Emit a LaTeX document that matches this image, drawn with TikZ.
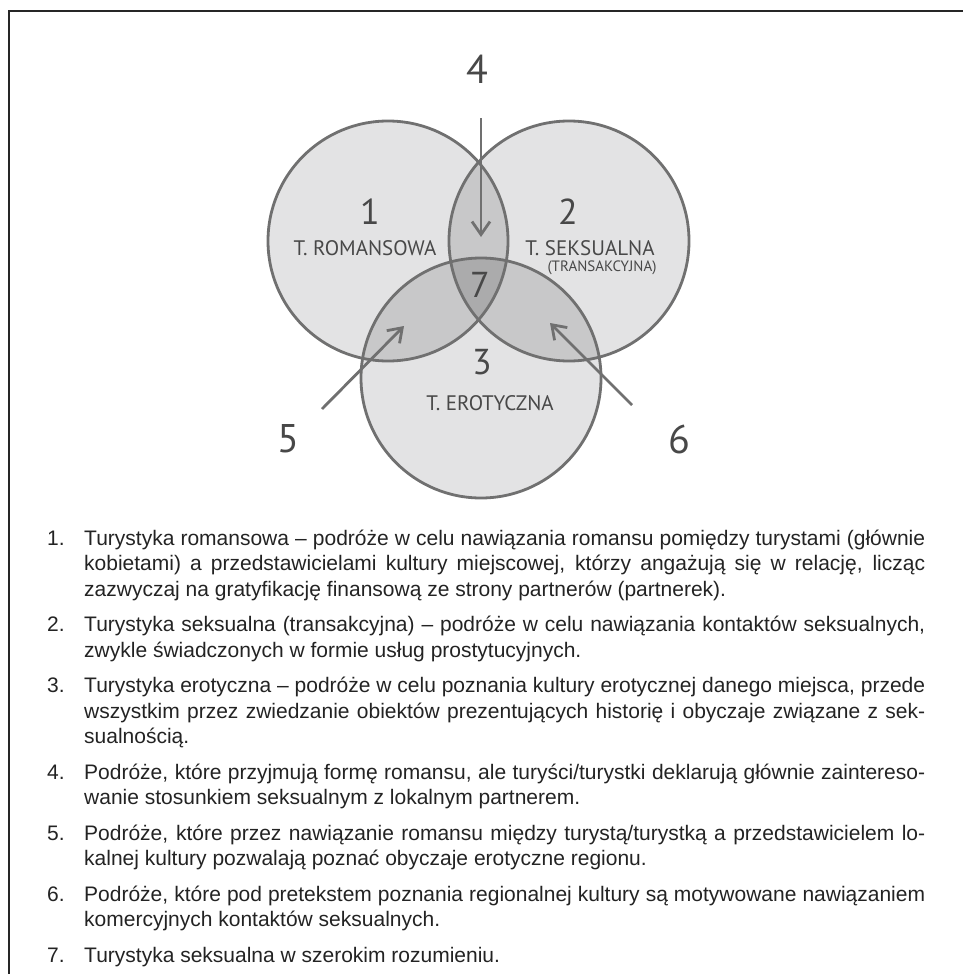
\documentclass[tikz,border=0pt]{standalone}
\usepackage{fontspec}
\setmainfont{Liberation Sans}
\newfontfamily\vennfont{PT Sans}
\usetikzlibrary{arrows.meta}

\definecolor{vennfill}{HTML}{E3E3E4}
\definecolor{vennlens}{HTML}{C8C8C9}
\definecolor{venncore}{HTML}{ABABAC}
\definecolor{vennline}{HTML}{707070}
\definecolor{venntext}{HTML}{484848}
\definecolor{listtext}{HTML}{232323}

\tikzset{
  venn/.style={draw=vennline, line width=2.8pt},
  vennnum/.style={font=\vennfont\fontsize{36}{36}\selectfont, text=venntext, inner sep=0},
  vennbig/.style={font=\vennfont\fontsize{40}{40}\selectfont, text=venntext, inner sep=0},
  vennlabel/.style={font=\vennfont\fontsize{21}{21}\selectfont, text=venntext, inner sep=0},
  vennsmall/.style={font=\vennfont\fontsize{15}{15}\selectfont, text=venntext, inner sep=0},
  pointer/.style={draw=vennline, line width=2.8pt,
    -{Straight Barb[length=13pt, width=18pt, line width=2.8pt]}},
  itemnum/.style={anchor=base west, inner sep=0, text=listtext,
    font=\fontsize{21}{25.5}\selectfont},
  itemtext/.style={anchor=base west, inner sep=0, text=listtext, text width=841pt,
    align=justify, font=\fontsize{21}{25.5}\selectfont},
}

\begin{document}
\begin{tikzpicture}[x=1pt, y=-1pt]
\useasboundingbox (0,0) rectangle (963,974);
% frame
\draw[line width=1.8pt, black!85] (9,974) -- (9,11) -- (963,11);

% circles
\coordinate (c1) at (388,241);
\coordinate (c2) at (569,241);
\coordinate (c3) at (481,378);
\fill[vennfill] (c1) circle (120pt);
\fill[vennfill] (c2) circle (120pt);
\fill[vennfill] (c3) circle (120pt);
\begin{scope}
  \clip (c1) circle (120pt);
  \fill[vennlens] (c2) circle (120pt);
  \fill[vennlens] (c3) circle (120pt);
\end{scope}
\begin{scope}
  \clip (c2) circle (120pt);
  \fill[vennlens] (c3) circle (120pt);
\end{scope}
\begin{scope}
  \clip (c1) circle (120pt);
  \clip (c2) circle (120pt);
  \fill[venncore] (c3) circle (120pt);
\end{scope}
\draw[venn] (c1) circle (120pt);
\draw[venn] (c2) circle (120pt);
\draw[venn] (c3) circle (120pt);

% labels
\node[vennnum] (n1) at (370,212) {1};
\node[vennlabel] (romans) at (365,248) {T. ROMANSOWA};
\node[vennnum] (n2) at (568,212) {2};
\node[vennlabel] (seks) at (590,248) {T. SEKSUALNA};
\node[vennsmall] (trans) at (602,268) {(TRANSAKCYJNA)};
\node[vennnum] (n3) at (482,362) {3};
\node[vennlabel] (erot) at (490,403) {T. EROTYCZNA};
\node[vennnum] (n7) at (480,285) {7};
\node[vennbig] (n4) at (477,69) {4};
\node[vennbig] (n5) at (288,439) {5};
\node[vennbig] (n6) at (679,439) {6};

% pointers
\coordinate (p4a) at (481,118);
\coordinate (p4b) at (481,237);
\coordinate (p5a) at (322,409);
\coordinate (p5b) at (404,326);
\coordinate (p6a) at (632,405);
\coordinate (p6b) at (550,323);
\draw[pointer] (p4a) -- (p4b);
\draw[pointer] (p5a) -- (p5b);
\draw[pointer] (p6a) -- (p6b);

% list
\node[itemnum] (i1) at (47,545) {1.};
\node[itemtext] (t1) at (84,545) {Turystyka romansowa – podróże w celu nawiązania romansu pomiędzy turystami (głównie\linebreak kobietami) a przedstawicielami kultury miejscowej, którzy angażują się w relację, licząc\linebreak zazwyczaj na gratyfikację finansową ze strony partnerów (partnerek).};
\node[itemnum] (i2) at (47,631.5) {2.};
\node[itemtext] (t2) at (84,631.5) {Turystyka seksualna (transakcyjna) – podróże w celu nawiązania kontaktów seksualnych,\linebreak zwykle świadczonych w formie usług prostytucyjnych.};
\node[itemnum] (i3) at (47,692.5) {3.};
\node[itemtext] (t3) at (84,692.5) {Turystyka erotyczna – podróże w celu poznania kultury erotycznej danego miejsca, przede\linebreak wszystkim przez zwiedzanie obiektów prezentujących historię i obyczaje związane z sek-\linebreak sualnością.};
\node[itemnum] (i4) at (47,779) {4.};
\node[itemtext] (t4) at (84,779) {Podróże, które przyjmują formę romansu, ale turyści/turystki deklarują głównie zaintereso-\linebreak wanie stosunkiem seksualnym z lokalnym partnerem.};
\node[itemnum] (i5) at (47,840) {5.};
\node[itemtext] (t5) at (84,840) {Podróże, które przez nawiązanie romansu między turystą/turystką a przedstawicielem lo-\linebreak kalnej kultury pozwalają poznać obyczaje erotyczne regionu.};
\node[itemnum] (i6) at (47,901) {6.};
\node[itemtext] (t6) at (84,901) {Podróże, które pod pretekstem poznania regionalnej kultury są motywowane nawiązaniem\linebreak komercyjnych kontaktów seksualnych.};
\node[itemnum] (i7) at (47,962) {7.};
\node[itemtext] (t7) at (84,962) {Turystyka seksualna w szerokim rozumieniu.};
\end{tikzpicture}
\end{document}
